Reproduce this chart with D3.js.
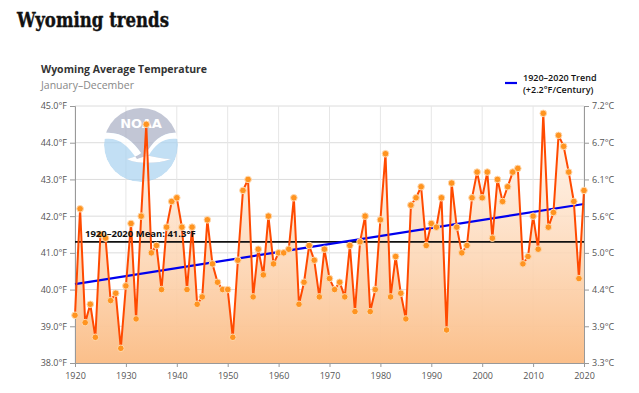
<!DOCTYPE html>
<html>
<head>
<meta charset="utf-8">
<script src="https://cdn.jsdelivr.net/npm/d3@7"></script>
<style>
  body { margin: 0; background: #fff; }
  svg { display: block; }
</style>
</head>
<body>
<svg id="chart"></svg>
<script>
const years = d3.range(1920, 2021);
const temps = [
  39.3, 42.2, 39.1, 39.6, 38.7, 41.5, 41.4, 39.7, 39.9, 38.4,
  40.1, 41.8, 39.2, 42.0, 44.5, 41.0, 41.2, 40.0, 41.7, 42.4,
  42.5, 41.7, 40.0, 41.7, 39.6, 39.8, 41.9, 40.7, 40.2, 40.0,
  40.0, 38.7, 40.8, 42.7, 43.0, 39.8, 41.1, 40.4, 42.0, 40.7,
  41.0, 41.0, 41.1, 42.5, 39.6, 40.2, 41.2, 40.8, 39.8, 41.1,
  40.3, 40.0, 40.2, 39.8, 41.2, 39.4, 41.3, 42.0, 39.4, 40.0,
  41.9, 43.7, 39.8, 40.9, 39.9, 39.2, 42.3, 42.5, 42.8, 41.2,
  41.8, 41.7, 42.5, 38.9, 42.9, 41.7, 41.0, 41.2, 42.5, 43.2,
  42.5, 43.2, 41.4, 43.0, 42.4, 42.8, 43.2, 43.3, 40.7, 40.9,
  42.0, 41.1, 44.8, 41.7, 42.1, 44.2, 43.9, 43.2, 42.4, 40.3,
  42.7
];
const meanValue = 41.3;
const trendYears = [1920, 2020];
const trendValues = [40.15, 42.33];
const leftTicks = [38, 39, 40, 41, 42, 43, 44, 45];
const xTicks = [1920, 1930, 1940, 1950, 1960, 1970, 1980, 1990, 2000, 2010, 2020];

const width = 639;
const height = 393;
const margin = { top: 106, right: 55, bottom: 30, left: 75 };

const svg = d3.select("#chart").attr("width", width).attr("height", height)
  .style("font-family", "'Open Sans', 'DejaVu Sans', sans-serif");

const x = d3.scaleLinear().domain([1920, 2020]).range([margin.left, width - margin.right]);
const y = d3.scaleLinear().domain([38, 45]).range([height - margin.bottom, margin.top]);
const data = years.map((yr, i) => ({ year: yr, temp: temps[i] }));

// titles
svg.append("text").attr("x", 17).attr("y", 27)
  .attr("font-family", "'DejaVu Serif', serif").attr("font-weight", "bold")
  .attr("font-size", 20).attr("textLength", 152).attr("lengthAdjust", "spacingAndGlyphs")
  .attr("fill", "#111").attr("stroke", "#111").attr("stroke-width", 0.4).text("Wyoming trends");
svg.append("text").attr("x", 41).attr("y", 73).attr("font-size", 10.5)
  .attr("font-weight", "bold").attr("fill", "#333").text("Wyoming Average Temperature");
svg.append("text").attr("x", 41).attr("y", 89).attr("font-size", 10.5)
  .attr("fill", "#888").text("January\u2013December");

// grid
const grid = svg.append("g");
grid.selectAll(".hg").data(leftTicks).join("line")
  .attr("x1", x(1920)).attr("x2", x(2020)).attr("y1", d => y(d)).attr("y2", d => y(d))
  .attr("stroke", "#dcdcdc").attr("stroke-width", 1);
grid.selectAll(".vg").data(xTicks).join("line")
  .attr("x1", d => x(d)).attr("x2", d => x(d)).attr("y1", y(38)).attr("y2", y(45))
  .attr("stroke", "#e6e6e6").attr("stroke-width", 1);

// NOAA watermark
const defs = svg.append("defs");
const cx = 141, cy = 145, r = 37;
defs.append("clipPath").attr("id", "logoClip").append("circle").attr("cx", cx).attr("cy", cy).attr("r", r);
const logo = svg.append("g").attr("clip-path", "url(#logoClip)").attr("opacity", 0.7);
logo.append("circle").attr("cx", cx).attr("cy", cy).attr("r", r).attr("fill", "#a9d2ef");
logo.append("path")
  .attr("d", `M${cx - r},${cy - r} L${cx + r},${cy - r} L${cx + r},${cy - 12}
    C${cx + 22},${cy - 14} ${cx + 12},${cy - 4} ${cx + 4},${cy + 10}
    C${cx + 14},${cy + 12} ${cx + 22},${cy + 14} ${cx + 30},${cy + 14}
    C${cx + 14},${cy + 20} ${cx - 8},${cy + 18} ${cx - 14},${cy + 14}
    C${cx - 6},${cy + 12} ${cx - 2},${cy + 10} ${cx},${cy + 8}
    C${cx - 8},${cy - 4} ${cx - 20},${cy - 14} ${cx - r},${cy - 12} Z`)
  .attr("fill", "#a8aec4");
logo.append("path")
  .attr("d", `M${cx - r},${cy - 12} C${cx - 20},${cy - 14} ${cx - 8},${cy - 4} ${cx},${cy + 8}
    C${cx - 2},${cy + 10} ${cx - 6},${cy + 12} ${cx - 14},${cy + 14}
    C${cx - 8},${cy + 18} ${cx + 14},${cy + 20} ${cx + 30},${cy + 14}
    C${cx + 22},${cy + 14} ${cx + 14},${cy + 12} ${cx + 4},${cy + 10}
    C${cx + 12},${cy - 4} ${cx + 22},${cy - 14} ${cx + r},${cy - 12}
    L${cx + r},${cy - 6} C${cx + 22},${cy - 8} ${cx + 14},${cy} ${cx + 8},${cy + 10}
    L${cx - 4},${cy + 14} C${cx - 14},${cy} ${cx - 22},${cy - 8} ${cx - r},${cy - 6} Z`)
  .attr("fill", "#ffffff");
logo.append("text").attr("x", cx).attr("y", cy - 17).attr("text-anchor", "middle")
  .attr("font-size", 13).attr("font-weight", "bold").attr("fill", "#fff")
  .attr("font-family", "'DejaVu Sans', sans-serif").text("NOAA");

// area gradient
const grad = defs.append("linearGradient").attr("id", "areaGrad")
  .attr("gradientUnits", "userSpaceOnUse")
  .attr("x1", 0).attr("x2", 0).attr("y1", y(45)).attr("y2", y(38));
grad.append("stop").attr("offset", "0%").attr("stop-color", "#fff6ef").attr("stop-opacity", 0.7);
grad.append("stop").attr("offset", "100%").attr("stop-color", "#fbbf8a");

svg.append("path").datum(data)
  .attr("d", d3.area().x(d => x(d.year)).y0(y(38)).y1(d => y(d.temp)))
  .attr("fill", "url(#areaGrad)");

// axes
const leftAxis = d3.axisLeft(y).tickValues(leftTicks).tickSize(5).tickFormat(d => d3.format(".1f")(d) + "°F");
const rightAxis = d3.axisRight(y).tickValues(leftTicks).tickSize(5).tickFormat(d => d3.format(".1f")((d - 32) * 5 / 9) + "°C");
const bottomAxis = d3.axisBottom(x).tickValues(xTicks).tickSize(4).tickFormat(d3.format("d"));

function styleAxis(g) {
  g.select(".domain").attr("stroke", "#999");
  g.selectAll(".tick line").attr("stroke", "#999");
  g.selectAll(".tick text").attr("fill", "#555").attr("font-size", 9)
    .attr("font-family", "'Open Sans', 'DejaVu Sans', sans-serif");
}
svg.append("g").attr("transform", `translate(${x(1920)},0)`).call(leftAxis).call(styleAxis);
svg.append("g").attr("transform", `translate(${x(2020)},0)`).call(rightAxis).call(styleAxis);
svg.append("g").attr("transform", `translate(0,${y(38)})`).call(bottomAxis).call(styleAxis)
  .call(g => g.selectAll(".tick text").attr("dy", "1.0em"));

// mean line
svg.append("line").attr("x1", x(1920)).attr("x2", x(2020))
  .attr("y1", y(meanValue)).attr("y2", y(meanValue))
  .attr("stroke", "#111").attr("stroke-width", 1.6);

// trend line
svg.append("line")
  .attr("x1", x(trendYears[0])).attr("y1", y(trendValues[0]))
  .attr("x2", x(trendYears[1])).attr("y2", y(trendValues[1]))
  .attr("stroke", "#0000ee").attr("stroke-width", 2.2);

// data line and markers
svg.append("path").datum(data)
  .attr("d", d3.line().x(d => x(d.year)).y(d => y(d.temp)))
  .attr("fill", "none").attr("stroke", "#ff4a00").attr("stroke-width", 2);

svg.selectAll(".pt").data(data).join("circle")
  .attr("cx", d => x(d.year)).attr("cy", d => y(d.temp)).attr("r", 3.3)
  .attr("fill", "#ff9420").attr("stroke", "#ffd9b0").attr("stroke-width", 1);

// mean label drawn on top of the series
svg.append("text").attr("x", 85).attr("y", y(meanValue) - 5)
  .attr("font-size", 9.5).attr("font-weight", "bold").attr("fill", "#111")
  .text(`1920\u20132020 Mean: ${meanValue}°F`);

// legend
svg.append("line").attr("x1", 505).attr("x2", 517).attr("y1", 83).attr("y2", 83)
  .attr("stroke", "#0000ee").attr("stroke-width", 2.2);
svg.append("text").attr("x", 523).attr("y", 81).attr("font-size", 9).attr("font-weight", 600)
  .attr("fill", "#111").text("1920\u20132020 Trend");
svg.append("text").attr("x", 523).attr("y", 93).attr("font-size", 9).attr("font-weight", 600)
  .attr("fill", "#111").text("(+2.2°F/Century)");
</script>
</body>
</html>
